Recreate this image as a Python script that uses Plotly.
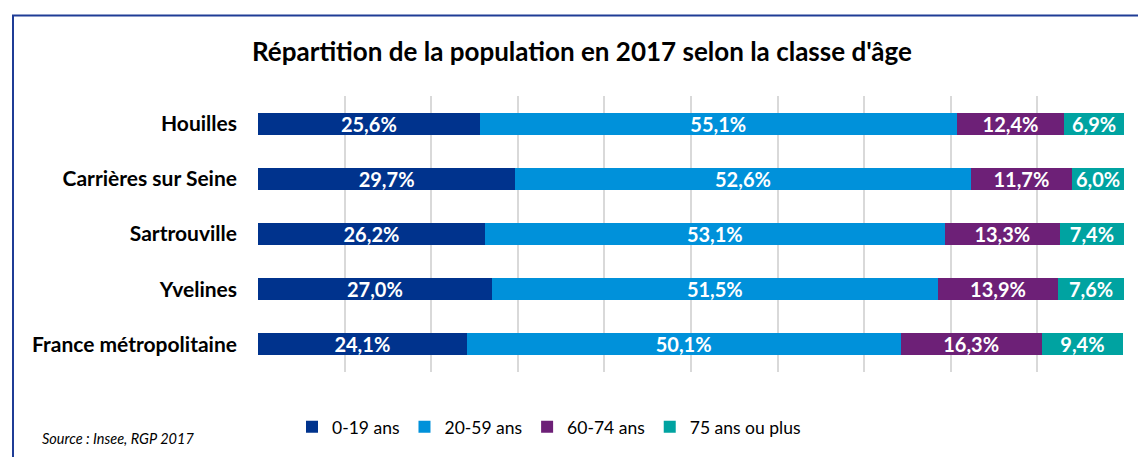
import plotly.graph_objects as go

categories = ["Houilles", "Carrières sur Seine", "Sartrouville", "Yvelines", "France métropolitaine"]
series_names = ["0-19 ans", "20-59 ans", "60-74 ans", "75 ans ou plus"]
v_0_19 = [25.6, 29.7, 26.2, 27.0, 24.1]
v_20_59 = [55.1, 52.6, 53.1, 51.5, 50.1]
v_60_74 = [12.4, 11.7, 13.3, 13.9, 16.3]
v_75 = [6.9, 6.0, 7.4, 7.6, 9.4]
colors = ["#00338D", "#0091DA", "#6D2077", "#00A3A1"]

FONT = "Lato"

fig = go.Figure()
for name, vals, col in zip(series_names, [v_0_19, v_20_59, v_60_74, v_75], colors):
    fig.add_trace(go.Bar(
        y=categories, x=vals, name=name, orientation="h",
        marker=dict(color=col, line=dict(width=0)),
        text=[f"{v:.1f}%".replace(".", ",") for v in vals],
        textposition="inside", insidetextanchor="middle", constraintext="none",
        textfont=dict(family=FONT, size=20, color="white", weight="bold"),
        textangle=0, hoverinfo="skip",
    ))

L, R, T, B = 258, 14, 96, 76
W, H = 1138, 457
pw, ph = W - L - R, H - T - B

def px_x(p):
    return (p - L) / pw

def px_y(p):
    return (H - B - p) / ph

fig.update_layout(
    width=W, height=H,
    margin=dict(l=L, r=R, t=T, b=B),
    barmode="stack", bargap=0.6,
    plot_bgcolor="white", paper_bgcolor="white",
    font=dict(family=FONT, color="#000000"),
    xaxis=dict(range=[0, 100], dtick=10, showgrid=True, gridcolor="#D9D9D9", gridwidth=2,
               showticklabels=False, zeroline=False, showline=False, fixedrange=True),
    yaxis=dict(autorange="reversed", showgrid=False, showline=False, zeroline=False,
               tickfont=dict(family=FONT, size=21, color="#000000", weight="bold"),
               ticklabelstandoff=20, fixedrange=True),
    showlegend=True,
    legend=dict(orientation="h", x=px_x(549), y=px_y(419), xanchor="center", yanchor="top",
                font=dict(family=FONT, size=17.5, color="#000000"), itemwidth=30,
                traceorder="normal", bgcolor="rgba(0,0,0,0)"),
    shapes=[dict(type="rect", xref="paper", yref="paper",
                 x0=px_x(13), x1=px_x(1160), y0=px_y(480), y1=px_y(13),
                 line=dict(color="#1F3C96", width=2), fillcolor="rgba(0,0,0,0)", layer="below")],
    annotations=[
        dict(text="Répartition de la population en 2017 selon la classe d'âge", xref="paper", yref="paper",
             x=px_x(582), y=px_y(50), xanchor="center", yanchor="middle", showarrow=False,
             font=dict(family=FONT, size=26, color="#000000", weight="bold")),
        dict(text="<i>Source : Insee, RGP 2017</i>", xref="paper", yref="paper",
             x=px_x(40), y=px_y(450), xanchor="left", yanchor="middle", showarrow=False,
             font=dict(family=FONT, size=14.5, color="#000000")),
    ],
)

fig.write_html("out.html", config={"displayModeBar": False},
               post_script="document.body.style.margin='0';document.body.style.overflow='hidden';")
